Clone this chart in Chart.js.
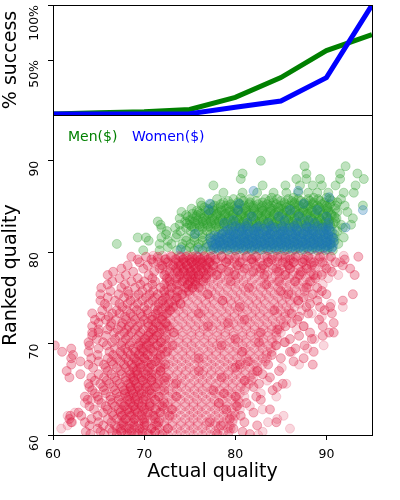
<!DOCTYPE html>
<html><head><meta charset="utf-8">
<script src="https://cdn.jsdelivr.net/npm/chart.js@4.4.1/dist/chart.umd.min.js"></script>
<style>
html,body{margin:0;padding:0;background:#fff;}
#wrap{position:relative;width:400px;height:500px;}
canvas{position:absolute;left:0;top:0;}
</style></head><body>
<div id="wrap"><canvas id="bottom" width="400" height="500"></canvas><canvas id="top" width="400" height="500"></canvas></div>
<script>
// ---- top panel: % success per actual-quality bin ----
const successX = [60, 65, 70, 75, 80, 85, 90, 95];
const menSuccess = [1, 2, 3, 5, 16, 34, 58.5, 73];
const womenSuccess = [0.8, 0.9, 1, 1.2, 7, 12.7, 34, 100];
const topTicks = [50, 100];
const bottomYTicks = [60, 70, 80, 90];
const xTicks = [60, 70, 80, 90];
const legendLabels = ['Men($)', 'Women($)'];

// ---- bottom panel: rows of [rankedQuality, actualQuality, actualQuality, ...] ----
const acceptedMen = [
 [80.2, 69.9, 71.7, 73.6, 74.6, 75.5, 76.4, 77.3, 78.2, 79.1, 80.0, 80.9, 81.8, 82.7, 83.6, 84.5, 85.4, 86.3, 87.2, 88.1, 89.0, 89.9, 90.7],
 [80.55, 72.6, 74.1, 75.0, 75.9, 76.8, 77.7, 78.6, 79.5, 80.4, 81.3, 82.2, 83.1, 84.0, 84.9, 85.8, 86.7, 87.6, 88.5, 89.4, 90.3],
 [80.9, 67.0, 71.7, 73.0, 74.2, 75.1, 76.0, 76.9, 77.8, 78.7, 79.6, 80.5, 81.4, 82.3, 83.2, 84.1, 85.0, 85.9, 86.8, 87.7, 88.6, 89.5, 90.4, 91.3],
 [81.25, 70.5, 72.6, 74.6, 75.5, 76.4, 77.3, 78.2, 79.1, 80.0, 80.9, 81.8, 82.7, 83.6, 84.5, 85.4, 86.3, 87.2, 88.1, 89.0, 89.9, 90.9],
 [81.6, 69.3, 70.2, 71.9, 73.5, 74.6, 75.5, 76.4, 77.3, 78.2, 79.1, 80.0, 80.9, 81.8, 82.7, 83.6, 84.5, 85.4, 86.3, 87.2, 88.1, 89.0, 89.9, 90.8, 91.9],
 [81.95, 72.4, 73.6, 75.5, 76.4, 77.3, 78.2, 79.1, 80.0, 80.9, 81.8, 82.7, 83.6, 84.5, 85.4, 86.3, 87.2, 88.1, 89.0, 89.9, 90.9],
 [82.3, 72.5, 74.0, 75.1, 76.0, 76.9, 77.8, 78.7, 79.6, 80.5, 81.4, 82.3, 83.2, 84.1, 85.0, 85.9, 86.8, 87.7, 88.6, 89.5, 90.4, 91.2],
 [82.65, 71.9, 73.4, 74.6, 75.5, 76.4, 77.3, 78.2, 79.1, 80.0, 80.9, 81.8, 82.7, 83.6, 84.5, 85.4, 86.3, 87.2, 88.1, 89.0, 89.9, 91.8],
 [82.8, 75.2, 76.1, 77.0, 77.9, 78.8, 79.7, 80.6, 81.5, 82.4, 83.3, 84.2, 85.1, 86.0, 86.9, 87.8, 88.7, 89.6, 90.5],
 [83.0, 71.8, 73.9, 75.0, 76.0, 76.9, 77.8, 78.7, 79.6, 80.5, 81.4, 82.3, 83.2, 84.1, 85.0, 85.9, 86.8, 87.7, 88.6, 89.5, 90.4, 91.6, 92.7],
 [83.15, 74.7, 75.6, 76.5, 77.4, 78.3, 79.2, 80.1, 81.0, 81.9, 82.8, 83.7, 84.6, 85.5, 86.4, 87.3, 88.2, 89.1, 90.0, 90.8],
 [83.35, 71.5, 74.5, 75.5, 76.4, 77.3, 78.2, 79.1, 80.0, 80.9, 81.8, 82.7, 83.6, 84.5, 85.4, 86.3, 87.2, 88.1, 89.0, 89.9, 91.0],
 [83.5, 75.0, 75.9, 76.8, 77.7, 78.6, 79.5, 80.4, 81.3, 82.2, 83.1, 84.0, 84.9, 85.8, 86.7, 87.6, 88.5, 89.4, 90.3],
 [83.7, 73.9, 75.3, 76.4, 77.4, 78.4, 79.3, 80.2, 81.1, 82.0, 82.9, 83.8, 84.7, 85.6, 86.5, 87.4, 88.3, 89.2, 90.1, 91.1, 92.9],
 [83.85, 74.8, 75.7, 76.6, 77.5, 78.4, 79.3, 80.2, 81.1, 82.0, 82.9, 83.8, 84.7, 85.6, 86.5, 87.4, 88.3, 89.2, 90.1, 90.9],
 [84.05, 74.6, 75.8, 76.9, 77.9, 78.8, 79.7, 80.6, 81.5, 82.4, 83.3, 84.2, 85.1, 86.0, 86.9, 87.8, 88.7, 89.6, 90.6],
 [84.2, 75.3, 76.2, 77.1, 78.0, 78.9, 79.8, 80.7, 81.6, 82.5, 83.4, 84.3, 85.2, 86.1, 87.0, 87.9, 88.8, 89.7, 90.5],
 [84.4, 74.1, 76.0, 77.3, 78.3, 79.3, 80.2, 81.1, 82.0, 82.9, 83.8, 84.7, 85.6, 86.5, 87.4, 88.3, 89.2, 90.2, 91.2, 92.3],
 [84.55, 75.8, 76.7, 77.6, 78.5, 79.4, 80.3, 81.2, 82.1, 83.0, 83.9, 84.8, 85.7, 86.6, 87.5, 88.4, 89.3, 90.2],
 [84.75, 75.2, 77.0, 78.0, 79.0, 80.0, 81.0, 82.0, 83.0, 84.0, 85.0, 86.0, 87.0, 88.0, 89.0, 90.0, 91.0],
 [84.9, 76.6, 77.5, 78.4, 79.3, 80.2, 81.1, 82.0, 82.9, 83.8, 84.7, 85.6, 86.5, 87.4, 88.3, 89.2, 90.1],
 [85.1, 76.3, 77.7, 79.0, 80.0, 81.0, 82.0, 83.0, 84.0, 85.0, 86.0, 87.0, 88.0, 89.0, 90.0, 91.0, 92.0, 94.0],
 [85.25, 77.3, 78.4, 79.5, 80.5, 81.5, 82.5, 83.5, 84.5, 85.5, 86.5, 87.5, 88.5, 89.5, 90.4],
 [85.45, 76.2, 78.7, 80.3, 81.6, 83.0, 84.2, 85.4, 86.5, 87.6, 88.6, 89.8, 91.2],
 [85.6, 79.2, 80.9, 82.3, 83.7, 85.0, 86.2, 87.2, 88.2, 89.3, 90.6],
 [85.8, 78.0, 79.8, 81.6, 83.3, 84.6, 85.8, 86.9, 88.0, 89.1, 90.4, 91.6],
 [85.95, 80.6, 84.0, 86.4, 88.6, 90.0],
 [86.5, 78.7, 80.8, 82.4, 84.2, 85.6, 86.9, 88.0, 89.0, 90.2, 91.9, 93.0],
 [87.3, 77.6, 83.0, 85.5, 87.1, 88.5, 89.5, 91.0, 93.2],
 [88.0, 80.6, 86.7, 87.8, 89.3, 91.5, 94.1],
 [88.6, 80.8, 87.8, 91.5, 93.4],
 [89.4, 87.6, 92.1],
 [90.0, 82.8]
];
const acceptedWomen = [
 [80.3, 74.0, 76.0, 77.6, 78.5, 79.4, 80.3, 81.2, 82.1, 83.0, 83.9, 84.8, 85.7, 86.6, 87.5, 88.4, 89.3, 90.1],
 [80.45, 77.9, 78.8, 79.8, 80.7, 81.6, 82.5, 83.4, 84.3, 85.2, 86.1, 87.0, 87.9, 88.8, 89.7, 90.6],
 [80.6, 77.0, 78.0, 79.0, 80.0, 80.9, 81.8, 82.7, 83.6, 84.5, 85.4, 86.3, 87.2, 88.1, 89.0, 89.9, 90.7],
 [80.75, 77.5, 78.4, 79.3, 80.2, 81.1, 82.0, 82.9, 83.8, 84.7, 85.6, 86.5, 87.4, 88.3, 89.2, 90.1],
 [80.9, 77.9, 78.8, 79.7, 80.6, 81.5, 82.4, 83.3, 84.2, 85.1, 86.0, 86.9, 87.8, 88.7, 89.6, 90.5],
 [81.05, 77.4, 78.3, 79.2, 80.1, 81.0, 81.9, 82.8, 83.7, 84.6, 85.5, 86.4, 87.3, 88.2, 89.1, 90.0, 90.8],
 [81.2, 78.3, 79.3, 80.2, 81.1, 82.0, 82.9, 83.8, 84.7, 85.6, 86.5, 87.4, 88.3, 89.2, 90.1],
 [81.35, 77.8, 78.7, 79.6, 80.5, 81.4, 82.3, 83.2, 84.1, 85.0, 85.9, 86.8, 87.7, 88.6, 89.5, 90.4],
 [81.5, 77.2, 78.3, 79.2, 80.1, 81.0, 81.9, 82.8, 83.7, 84.6, 85.5, 86.4, 87.3, 88.2, 89.1, 90.0, 90.8],
 [81.65, 78.0, 78.9, 79.8, 80.7, 81.6, 82.5, 83.4, 84.3, 85.2, 86.1, 87.0, 87.9, 88.8, 89.7, 90.6],
 [81.8, 77.7, 79.7, 81.0, 82.2, 83.4, 84.5, 85.5, 86.7, 87.9, 89.0, 90.2],
 [81.95, 78.5, 79.4, 80.3, 81.2, 82.1, 83.0, 83.9, 84.8, 85.7, 86.6, 87.5, 88.4, 89.3, 90.2],
 [82.0, 75.6, 78.6, 80.0, 81.4, 82.6, 83.8, 85.0, 86.2, 87.4, 88.6, 89.8],
 [82.25, 78.9, 79.8, 80.7, 81.6, 82.5, 83.4, 84.3, 85.2, 86.1, 87.0, 87.9, 88.8, 89.7, 90.6],
 [82.4, 79.2, 80.8, 82.0, 83.5, 85.3, 86.8, 88.4, 90.0],
 [82.55, 79.5, 80.4, 81.3, 82.2, 83.1, 84.0, 84.9, 85.8, 86.7, 87.6, 88.5, 89.4, 90.3],
 [82.7, 80.5, 82.4, 84.3, 86.0, 87.9, 89.6, 92.1],
 [82.85, 80.0, 81.2, 82.6, 83.9, 85.2, 86.5, 87.8, 89.0, 90.2],
 [83.2, 78.8, 81.3, 83.6, 86.8, 88.7, 90.2],
 [83.5, 79.8, 85.4, 88.0],
 [83.9, 81.8, 84.8, 87.0, 90.0],
 [84.6, 77.1, 80.3, 86.0, 89.0, 94.0],
 [85.3, 77.2, 80.4, 87.5],
 [86.0, 90.3],
 [86.7, 82.0, 86.9]
];
const rejectedMen = [
 [79.5, 68.6, 70.2, 71.5, 73.0, 74.0, 74.6, 75.3, 75.9, 76.6, 77.3, 78.5, 80.0, 81.2, 82.3, 83.5, 84.6, 85.5, 86.6, 88.0, 89.3, 90.5, 93.5],
 [79.2, 69.3, 70.8, 72.3, 73.5, 74.3, 75.0, 75.6, 76.2, 76.9, 77.8, 79.3, 81.8, 84.0, 86.0, 87.6, 92.0],
 [78.9, 69.5, 71.0, 72.6, 73.8, 74.5, 75.2, 75.8, 76.4, 77.2, 79.0, 80.5, 82.0, 83.6, 85.2, 86.4, 87.4, 88.6, 89.6, 91.0],
 [78.55, 68.2, 70.4, 72.0, 73.2, 74.0, 74.7, 75.4, 76.1, 76.8, 77.6, 80.2, 83.0, 85.8, 88.4, 91.8],
 [78.2, 67.5, 69.9, 71.7, 73.5, 74.3, 75.0, 75.6, 76.3, 77.0, 78.4, 81.0, 82.8, 84.5, 86.0, 87.8, 90.0, 92.6],
 [77.85, 66.6, 68.8, 71.1, 72.8, 73.7, 74.4, 75.1, 75.8, 76.5, 77.4, 79.3, 82.0, 84.8, 87.2, 90.6],
 [77.5, 66.0, 68.0, 70.5, 72.2, 73.9, 74.8, 75.4, 76.0, 76.8, 78.0, 80.0, 83.2, 85.5, 87.0, 88.6, 89.5, 93.1],
 [77.15, 67.3, 69.3, 70.9, 72.5, 73.5, 74.4, 75.2, 75.9, 76.8, 88.8],
 [76.8, 66.5, 68.6, 70.0, 71.2, 72.8, 74.2, 75.0, 75.6, 76.5, 79.5, 84.8, 86.6, 88.2],
 [76.45, 66.0, 67.9, 69.6, 70.9, 72.2, 73.6, 74.8, 75.6, 83.4],
 [76.1, 65.3, 67.5, 69.0, 70.4, 71.8, 73.0, 74.6, 75.3, 76.0, 81.5, 87.8, 89.0],
 [75.75, 66.3, 68.2, 69.8, 71.0, 72.2, 73.7, 74.9, 85.0, 89.5],
 [75.4, 65.2, 67.2, 68.3, 69.4, 70.6, 71.5, 72.8, 74.2, 77.0, 85.8, 88.5, 90.0, 92.9],
 [75.05, 66.0, 67.8, 69.0, 70.2, 71.2, 72.3, 73.6, 87.5],
 [74.7, 65.2, 66.8, 68.5, 69.8, 70.9, 72.0, 73.4, 78.6, 86.9, 89.0, 91.8],
 [74.35, 65.7, 67.3, 68.2, 69.3, 70.5, 71.6, 72.7, 74.0, 88.2],
 [74.0, 66.0, 67.6, 68.9, 70.0, 71.2, 72.3, 73.2, 80.5, 87.8, 89.3, 90.4],
 [73.65, 65.4, 67.0, 68.1, 69.2, 70.3, 71.5, 72.8, 84.3, 89.8],
 [73.3, 64.3, 66.5, 67.3, 68.5, 69.6, 70.4, 71.3, 72.5, 76.0, 86.2, 88.0, 90.6],
 [72.95, 65.2, 66.1, 67.9, 68.8, 69.8, 70.9, 72.0, 87.0],
 [72.6, 64.6, 65.8, 66.9, 68.0, 69.0, 70.0, 70.8, 71.9, 81.0, 86.8, 89.2],
 [72.25, 65.0, 66.4, 67.6, 68.6, 69.6, 70.4, 71.3, 72.4, 79.2, 86.2, 90.8],
 [71.9, 64.3, 66.3, 67.5, 68.3, 69.3, 70.5, 71.6, 72.6, 77.0, 85.5, 87.5, 89.6],
 [71.55, 65.0, 66.0, 67.1, 68.1, 69.0, 69.9, 71.0, 72.2, 84.6],
 [71.2, 64.3, 65.0, 66.7, 67.8, 68.6, 69.6, 70.7, 71.7, 73.2, 82.8, 88.2, 90.3, 90.8],
 [70.85, 64.3, 65.8, 67.3, 68.3, 69.4, 70.4, 71.4, 87.0, 89.6],
 [70.5, 64.8, 66.8, 68.0, 69.1, 70.1, 71.0, 72.3, 80.0, 86.0, 88.4],
 [70.15, 63.9, 65.5, 66.5, 67.6, 68.6, 69.6, 70.6, 71.8, 82.6, 85.4],
 [69.8, 60.2, 64.0, 65.9, 67.5, 68.4, 69.4, 70.3, 71.4, 73.1, 78.5, 84.5, 87.6],
 [69.45, 62.0, 65.0, 66.8, 67.9, 68.8, 69.7, 70.7, 72.0, 86.6],
 [69.1, 61.0, 63.9, 66.2, 67.4, 68.2, 69.0, 69.9, 71.0, 72.5, 80.8, 86.0, 88.6],
 [68.75, 62.2, 64.9, 66.6, 67.6, 68.5, 69.4, 70.4, 71.8, 84.0],
 [68.4, 62.0, 64.2, 66.0, 67.0, 68.0, 68.9, 70.0, 71.5, 76.0, 85.0, 87.5],
 [68.05, 63.0, 65.0, 66.4, 67.4, 68.3, 69.2, 70.2, 71.2, 81.4, 86.4],
 [67.7, 62.0, 63.9, 65.6, 66.6, 67.8, 68.6, 69.6, 70.8, 72.3, 80.5, 83.6, 88.5],
 [67.35, 64.4, 65.8, 67.0, 68.0, 68.8, 69.6, 70.6, 71.8, 80.0],
 [67.0, 61.5, 66.0, 67.4, 68.4, 69.2, 70.4, 71.8, 76.0, 82.4, 84.8],
 [66.65, 63.0, 65.0, 66.4, 67.5, 68.5, 69.3, 70.2, 71.3, 83.0],
 [66.3, 61.8, 64.2, 65.6, 66.8, 68.0, 68.8, 69.7, 70.8, 72.4, 78.5, 83.8],
 [65.95, 64.6, 65.9, 67.0, 68.0, 68.9, 69.8, 70.8, 72.2, 81.0],
 [65.6, 63.9, 65.2, 66.2, 67.3, 68.3, 69.1, 70.2, 71.5, 73.5, 82.6, 85.2],
 [65.25, 64.0, 65.5, 66.6, 67.6, 68.5, 69.3, 70.2, 71.2, 82.0, 84.6],
 [64.9, 64.3, 65.6, 66.8, 67.8, 68.6, 69.5, 70.6, 72.2, 77.6, 84.1],
 [64.55, 64.6, 65.8, 67.0, 67.9, 68.8, 69.7, 70.8, 78.8],
 [64.2, 63.5, 64.9, 66.3, 67.3, 68.3, 69.2, 70.2, 71.6, 73.5, 80.0, 82.3],
 [63.85, 63.8, 65.0, 66.3, 67.2, 68.2, 69.0, 69.9, 71.2, 82.8],
 [63.5, 65.3, 66.5, 67.5, 68.5, 69.4, 70.6, 72.2, 78.2, 81.2],
 [63.15, 64.0, 65.8, 66.8, 67.8, 68.8, 69.7, 70.6, 72.0, 80.2],
 [62.8, 64.5, 66.0, 67.2, 68.2, 69.0, 70.0, 71.3, 73.0, 79.0, 83.8],
 [62.45, 62.8, 65.5, 66.5, 67.4, 68.4, 69.3, 70.4, 71.8, 82.0],
 [62.1, 61.9, 63.1, 64.9, 66.6, 67.6, 68.6, 69.7, 71.0, 72.8, 80.6],
 [61.75, 61.8, 64.2, 66.0, 67.0, 68.0, 69.0, 70.0, 71.2, 79.4],
 [61.4, 62.0, 63.5, 65.0, 66.4, 67.7, 68.8, 70.0, 71.6, 77.2, 81.0, 84.5],
 [61.05, 64.0, 65.5, 66.8, 67.8, 68.9, 70.0, 71.4, 78.4, 82.4],
 [60.7, 64.9, 66.2, 67.4, 68.4, 69.5, 70.8, 72.6, 79.8],
 [60.35, 63.6, 65.2, 66.5, 67.5, 68.6, 69.8, 71.2, 80.8],
 [60.1, 64.1, 65.6, 67.0, 68.2, 69.3, 70.5, 72.0, 78.0, 81.6]
];
const rejectedWomen = [
 [79.6, 71.0, 72.0, 72.9, 73.8, 74.8, 75.7, 76.6, 77.6, 78.5, 79.4, 80.4, 81.3, 82.2, 83.2, 84.1, 85.0, 86.0, 86.9, 87.8, 88.8, 89.7, 91.9],
 [79.25, 71.5, 72.4, 73.4, 74.3, 75.2, 76.2, 77.1, 78.0, 79.0, 79.9, 80.8, 81.8, 82.7, 83.6, 84.6, 85.5, 86.4, 87.4, 88.3, 89.2, 90.3],
 [78.9, 71.5, 72.4, 73.4, 74.3, 75.2, 76.2, 77.1, 78.0, 79.0, 79.9, 80.8, 81.8, 82.7, 83.6, 84.6, 85.5, 86.4, 87.4, 88.3, 89.3, 91.5],
 [78.55, 71.9, 72.9, 73.8, 74.7, 75.7, 76.6, 77.5, 78.5, 79.4, 80.3, 81.3, 82.2, 83.1, 84.1, 85.0, 85.9, 86.9, 87.8, 88.7, 89.8],
 [78.2, 72.0, 72.9, 73.9, 74.8, 75.7, 76.7, 77.6, 78.5, 79.5, 80.4, 81.3, 82.3, 83.2, 84.1, 85.1, 86.0, 86.9, 87.9, 88.8, 90.4],
 [77.85, 72.4, 73.4, 74.3, 75.2, 76.2, 77.1, 78.0, 79.0, 79.9, 80.8, 81.8, 82.7, 83.6, 84.6, 85.5, 86.4, 87.4, 88.3, 89.5],
 [77.5, 72.3, 73.2, 74.2, 75.1, 76.0, 77.0, 77.9, 78.8, 79.8, 80.7, 81.6, 82.6, 83.5, 84.4, 85.4, 86.3, 87.2, 88.2, 89.0, 91.3],
 [77.15, 72.8, 73.7, 74.7, 75.6, 76.5, 77.5, 78.4, 79.3, 80.3, 81.2, 82.1, 83.1, 84.0, 84.9, 85.9, 86.8, 87.8, 90.2],
 [76.8, 72.5, 73.4, 74.4, 75.3, 76.2, 77.2, 78.1, 79.0, 80.0, 80.9, 81.8, 82.8, 83.7, 84.6, 85.6, 86.5, 87.4, 88.4],
 [76.45, 72.9, 73.9, 74.8, 75.7, 76.7, 77.6, 78.5, 79.5, 80.4, 81.3, 82.3, 83.2, 84.1, 85.1, 86.0, 86.9, 87.9, 89.6],
 [76.1, 72.5, 73.5, 74.4, 75.3, 76.3, 77.2, 78.1, 79.1, 80.0, 80.9, 81.9, 82.8, 83.7, 84.7, 85.6, 86.5, 87.5, 88.0],
 [75.75, 72.7, 73.6, 74.6, 75.5, 76.4, 77.4, 78.3, 79.2, 80.2, 81.1, 82.0, 83.0, 83.9, 84.8, 85.8, 86.7, 87.6],
 [75.4, 72.2, 73.1, 74.1, 75.0, 75.9, 76.9, 77.8, 78.7, 79.7, 80.6, 81.5, 82.5, 83.4, 84.3, 85.3, 86.2, 87.1, 89.2],
 [75.05, 72.5, 73.5, 74.4, 75.3, 76.3, 77.2, 78.1, 79.1, 80.0, 80.9, 81.9, 82.8, 83.7, 84.7, 85.6, 86.5, 88.1],
 [74.7, 72.0, 73.0, 73.9, 74.8, 75.8, 76.7, 77.6, 78.6, 79.5, 80.4, 81.4, 82.3, 83.2, 84.2, 85.1, 86.0, 86.9],
 [74.35, 72.1, 73.1, 74.0, 74.9, 75.9, 76.8, 77.7, 78.7, 79.6, 80.5, 81.5, 82.4, 83.3, 84.3, 85.2, 86.1, 87.0, 90.5],
 [74.0, 71.6, 72.6, 73.5, 74.4, 75.4, 76.3, 77.2, 78.2, 79.1, 80.0, 81.0, 81.9, 82.8, 83.8, 84.7, 85.6, 86.5, 91.8],
 [73.65, 71.9, 72.9, 73.8, 74.7, 75.7, 76.6, 77.5, 78.5, 79.4, 80.3, 81.3, 82.2, 83.1, 84.1, 85.0, 85.9, 87.3],
 [73.3, 71.5, 72.4, 73.4, 74.3, 75.2, 76.2, 77.1, 78.0, 79.0, 79.9, 80.8, 81.8, 82.7, 83.6, 84.6, 85.5, 86.0, 88.4],
 [72.95, 71.5, 72.4, 73.4, 74.3, 75.2, 76.2, 77.1, 78.0, 79.0, 79.9, 80.8, 81.8, 82.7, 83.6, 84.6, 85.4, 89.5],
 [72.6, 71.0, 72.0, 72.9, 73.8, 74.8, 75.7, 76.6, 77.6, 78.5, 79.4, 80.4, 81.3, 82.2, 83.2, 84.1, 85.0, 85.6],
 [72.25, 71.4, 72.3, 73.2, 74.2, 75.1, 76.0, 77.0, 77.9, 78.8, 79.8, 80.7, 81.6, 82.6, 83.5, 84.4, 85.3],
 [71.9, 70.9, 71.8, 72.8, 73.7, 74.6, 75.6, 76.5, 77.4, 78.4, 79.3, 80.2, 81.2, 82.1, 83.0, 84.0, 84.9, 87.5],
 [71.55, 70.9, 71.9, 72.8, 73.7, 74.7, 75.6, 76.5, 77.5, 78.4, 79.3, 80.3, 81.2, 82.1, 83.1, 84.0, 84.8, 86.7],
 [71.2, 70.5, 71.4, 72.4, 73.3, 74.2, 75.2, 76.1, 77.0, 78.0, 78.9, 79.8, 80.8, 81.7, 82.6, 83.6, 84.5, 85.0],
 [70.85, 70.5, 71.4, 72.4, 73.3, 74.2, 75.2, 76.1, 77.0, 78.0, 78.9, 79.8, 80.8, 81.7, 82.6, 83.6, 84.5],
 [70.5, 70.0, 71.0, 71.9, 72.8, 73.8, 74.7, 75.6, 76.6, 77.5, 78.4, 79.4, 80.3, 81.2, 82.2, 83.1, 84.0, 84.6, 88.7],
 [70.15, 70.0, 71.0, 71.9, 72.8, 73.8, 74.7, 75.6, 76.6, 77.5, 78.4, 79.4, 80.3, 81.2, 82.2, 83.1, 84.1, 85.5],
 [69.8, 69.6, 70.5, 71.5, 72.4, 73.3, 74.3, 75.2, 76.1, 77.1, 78.0, 78.9, 79.9, 80.8, 81.7, 82.7, 83.6, 84.4, 89.7],
 [69.45, 69.9, 70.9, 71.8, 72.7, 73.7, 74.6, 75.5, 76.5, 77.4, 78.3, 79.3, 80.2, 81.1, 82.1, 83.0, 83.9, 87.9],
 [69.1, 69.5, 70.4, 71.4, 72.3, 73.2, 74.2, 75.1, 76.0, 77.0, 77.9, 78.8, 79.8, 80.7, 81.6, 82.6, 83.5, 84.0, 86.2],
 [68.75, 69.5, 70.4, 71.4, 72.3, 73.2, 74.2, 75.1, 76.0, 77.0, 77.9, 78.8, 79.8, 80.7, 81.6, 82.6, 83.4],
 [68.4, 69.0, 70.0, 70.9, 71.8, 72.8, 73.7, 74.6, 75.6, 76.5, 77.4, 78.4, 79.3, 80.2, 81.2, 82.1, 83.0, 83.5],
 [68.05, 69.4, 70.4, 71.3, 72.2, 73.2, 74.1, 75.0, 76.0, 76.9, 77.8, 78.8, 79.7, 80.6, 81.6, 82.5, 83.3],
 [67.7, 69.0, 69.9, 70.8, 71.8, 72.7, 73.6, 74.6, 75.5, 76.4, 77.4, 78.3, 79.2, 80.2, 81.1, 82.0, 83.0, 87.0],
 [67.35, 69.4, 70.4, 71.3, 72.2, 73.2, 74.1, 75.0, 76.0, 76.9, 77.8, 78.8, 79.7, 80.6, 81.6, 82.4, 85.1],
 [67.0, 69.0, 69.9, 70.9, 71.8, 72.7, 73.7, 74.6, 75.5, 76.5, 77.4, 78.3, 79.3, 80.2, 81.1, 82.1, 82.5],
 [66.65, 68.9, 69.9, 70.8, 71.7, 72.7, 73.6, 74.5, 75.5, 76.4, 77.3, 78.3, 79.2, 80.1, 81.1, 81.9],
 [66.3, 68.5, 69.4, 70.4, 71.3, 72.2, 73.2, 74.1, 75.0, 76.0, 76.9, 77.8, 78.8, 79.7, 80.6, 81.6, 82.0],
 [65.95, 68.9, 69.9, 70.8, 71.7, 72.7, 73.6, 74.5, 75.5, 76.4, 77.3, 78.3, 79.2, 80.1, 81.1, 81.8, 83.5],
 [65.6, 68.5, 69.5, 70.4, 71.3, 72.3, 73.2, 74.1, 75.1, 76.0, 76.9, 77.9, 78.8, 79.7, 80.7, 81.5, 85.6],
 [65.25, 68.5, 69.4, 70.4, 71.3, 72.2, 73.2, 74.1, 75.0, 76.0, 76.9, 77.8, 78.8, 79.7, 80.6, 81.2],
 [64.9, 68.0, 69.0, 69.9, 70.8, 71.8, 72.7, 73.6, 74.6, 75.5, 76.4, 77.4, 78.3, 79.2, 80.2, 81.0],
 [64.55, 68.4, 69.4, 70.3, 71.2, 72.2, 73.1, 74.0, 75.0, 75.9, 76.8, 77.8, 78.7, 79.6, 80.5, 82.8],
 [64.2, 68.0, 68.9, 69.9, 70.8, 71.7, 72.7, 73.6, 74.5, 75.5, 76.4, 77.3, 78.3, 79.2, 80.1, 81.0, 84.5],
 [63.85, 64.2, 68.4, 69.3, 70.2, 71.2, 72.1, 73.0, 74.0, 74.9, 75.8, 76.8, 77.7, 78.6, 79.6, 80.3],
 [63.5, 63.5, 67.9, 68.9, 69.8, 70.7, 71.7, 72.6, 73.5, 74.5, 75.4, 76.3, 77.3, 78.2, 79.1, 80.1, 80.5],
 [63.15, 67.9, 68.9, 69.8, 70.7, 71.7, 72.6, 73.5, 74.5, 75.4, 76.3, 77.3, 78.2, 79.1, 80.1, 81.6],
 [62.8, 67.5, 68.4, 69.4, 70.3, 71.2, 72.2, 73.1, 74.0, 75.0, 75.9, 76.8, 77.8, 78.7, 79.6, 80.5, 83.0],
 [62.45, 62.4, 67.9, 68.9, 69.8, 70.7, 71.7, 72.6, 73.5, 74.5, 75.4, 76.3, 77.3, 78.2, 79.1, 79.9],
 [62.1, 61.6, 67.5, 68.4, 69.4, 70.3, 71.2, 72.2, 73.1, 74.0, 75.0, 75.9, 76.8, 77.8, 78.7, 79.6, 80.0, 85.3],
 [61.75, 67.9, 68.9, 69.8, 70.7, 71.7, 72.6, 73.5, 74.5, 75.4, 76.3, 77.3, 78.2, 79.1, 79.8, 84.6],
 [61.4, 62.1, 67.5, 68.5, 69.4, 70.3, 71.3, 72.2, 73.1, 74.1, 75.0, 75.9, 76.9, 77.8, 78.7, 79.7, 83.6],
 [61.05, 61.6, 67.5, 68.4, 69.4, 70.3, 71.2, 72.2, 73.1, 74.0, 75.0, 75.9, 76.8, 77.8, 78.7, 79.4],
 [60.7, 60.9, 67.0, 68.0, 68.9, 69.8, 70.8, 71.7, 72.6, 73.6, 74.5, 75.4, 76.4, 77.3, 78.2, 79.2, 79.5, 86.0],
 [60.35, 67.5, 68.4, 69.4, 70.3, 71.2, 72.2, 73.1, 74.0, 75.0, 75.9, 76.8, 77.8, 78.7, 79.3, 83.0],
 [60.0, 67.0, 68.0, 68.9, 69.8, 70.8, 71.7, 72.6, 73.6, 74.5, 75.4, 76.4, 77.3, 78.2, 79.2, 82.5]
];

Chart.defaults.font.family = "'DejaVu Sans', sans-serif";
Chart.defaults.color = '#000';

function rowsToPoints(rows) {
  const pts = [];
  rows.forEach(r => { for (let i = 1; i < r.length; i++) pts.push({x: r[i], y: r[0]}); });
  return pts;
}

const framePlugin = {
  id: 'frame',
  afterDraw(chart) {
    const a = chart.chartArea, ctx = chart.ctx;
    ctx.save();
    ctx.strokeStyle = '#000'; ctx.lineWidth = 1;
    ctx.strokeRect(Math.round(a.left) + 0.5, Math.round(a.top) + 0.5, Math.round(a.right - a.left), Math.round(a.bottom - a.top));
    ctx.restore();
  }
};
const textLegend = {
  id: 'textLegend',
  afterDraw(chart) {
    const a = chart.chartArea, ctx = chart.ctx;
    ctx.save();
    ctx.font = "14px 'DejaVu Sans'";
    ctx.textBaseline = 'middle';
    ctx.fillStyle = '#008000';
    ctx.fillText(legendLabels[0], a.left + 15, a.top + 22);
    ctx.fillStyle = '#0000ff';
    ctx.fillText(legendLabels[1], a.left + 79, a.top + 22);
    ctx.restore();
  }
};

function yAxis(ticks, title, fmt) {
  return {
    type: 'linear',
    afterBuildTicks: s => { s.ticks = ticks.map(v => ({value: v})); },
    afterFit: s => { s.width = 53; s.paddingTop = 0; s.paddingBottom = 0; },
    ticks: {minRotation: 90, maxRotation: 90, padding: 13, color: '#000', font: {size: 12.5}, callback: fmt},
    grid: {drawOnChartArea: false, tickLength: 5, color: '#000', tickWidth: 1},
    border: {display: true, color: '#000', width: 1},
    title: {display: true, text: title, color: '#000', font: {size: 19}, padding: {top: 0, bottom: 0}}
  };
}

new Chart(document.getElementById('bottom'), {
  type: 'scatter',
  data: { datasets: [
    {label: 'rejected men', data: rowsToPoints(rejectedMen), backgroundColor: 'rgba(220,20,60,0.3)', borderColor: 'rgba(220,20,60,0.3)', order: 0},
    {label: 'rejected women', data: rowsToPoints(rejectedWomen), backgroundColor: 'rgba(220,20,60,0.17)', borderColor: 'rgba(220,20,60,0.17)', order: 1},
    {label: 'accepted women', data: rowsToPoints(acceptedWomen), backgroundColor: 'rgba(31,119,180,0.3)', borderColor: 'rgba(31,119,180,0.3)', order: 2},
    {label: 'accepted men', data: rowsToPoints(acceptedMen), backgroundColor: 'rgba(44,160,44,0.3)', borderColor: 'rgba(44,160,44,0.3)', order: 3}
  ].map(d => Object.assign(d, {pointRadius: 4.5, borderWidth: 1, clip: 0, pointHoverRadius: 4.5}))},
  options: {
    responsive: false, animation: false, devicePixelRatio: 1,
    layout: {padding: {top: 115, right: 28, bottom: 0, left: 0}},
    plugins: {legend: {display: false}, tooltip: {enabled: false}},
    events: [],
    scales: {
      x: {
        type: 'linear', min: 60, max: 95,
        afterBuildTicks: s => { s.ticks = xTicks.map(v => ({value: v})); },
        afterFit: s => { s.height = 65; s.paddingLeft = 0; s.paddingRight = 0; },
        ticks: {color: '#000', font: {size: 12.5}, padding: 7, maxRotation: 0},
        grid: {drawOnChartArea: false, tickLength: 5, color: '#000'},
        border: {display: true, color: '#000', width: 1},
        title: {display: true, text: 'Actual quality', color: '#000', font: {size: 19}, padding: {top: 0, bottom: 17}}
      },
      y: Object.assign(yAxis(bottomYTicks, 'Ranked quality', v => String(v)), {min: 60, max: 95})
    }
  },
  plugins: [framePlugin, textLegend]
});

new Chart(document.getElementById('top'), {
  type: 'line',
  data: { datasets: [
    {label: 'Women($)', data: successX.map((x, i) => ({x: x, y: womenSuccess[i]})), borderColor: '#0000ff', order: 0},
    {label: 'Men($)', data: successX.map((x, i) => ({x: x, y: menSuccess[i]})), borderColor: '#008000', order: 1}
  ].map(d => Object.assign(d, {borderWidth: 5, pointRadius: 0, clip: 0, tension: 0, fill: false}))},
  options: {
    responsive: false, animation: false, devicePixelRatio: 1,
    layout: {padding: {top: 5, right: 28, bottom: 385, left: 0}},
    plugins: {legend: {display: false}, tooltip: {enabled: false}},
    events: [],
    scales: {
      x: {type: 'linear', min: 60, max: 95, display: false},
      y: Object.assign(yAxis(topTicks, '% success', v => v + '%'), {min: 0, max: 100})
    }
  },
  plugins: [framePlugin]
});
</script>
</body></html>
